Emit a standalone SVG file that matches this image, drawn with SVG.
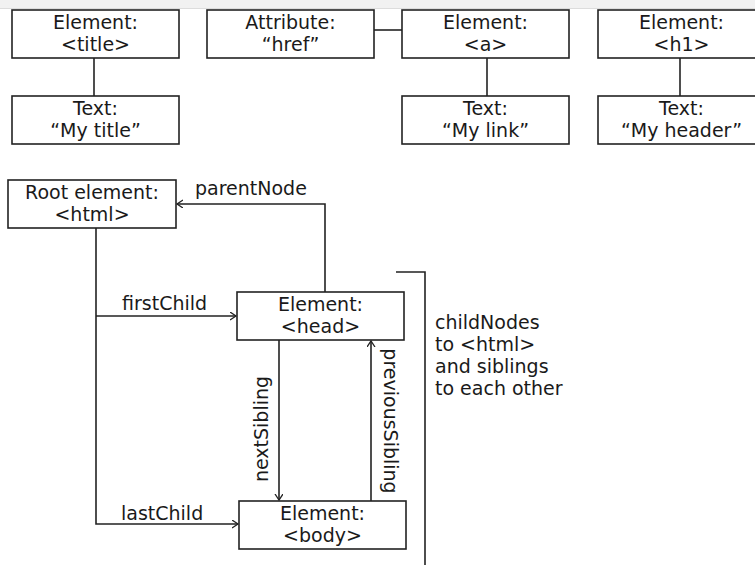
<svg xmlns="http://www.w3.org/2000/svg" width="755" height="565" viewBox="0 0 755 565">
<style>
.box{fill:#fff;stroke:#222;stroke-width:1.6}
.t{font-family:"DejaVu Sans",Verdana,sans-serif;font-size:19px;fill:#1a1a1a;text-anchor:middle}
.l{font-family:"DejaVu Sans",Verdana,sans-serif;font-size:19px;fill:#1a1a1a}
.c{fill:none;stroke:#222;stroke-width:1.6}
</style>
<defs>
<marker id="arr" markerUnits="userSpaceOnUse" markerWidth="10" markerHeight="10" refX="6" refY="4" orient="auto">
<path d="M0,0 L6,4 L0,8" fill="none" stroke="#222" stroke-width="1.3"/>
</marker>
</defs>
<rect x="0" y="0" width="755" height="8" fill="#f1f1f1"/>
<line x1="0" y1="8.5" x2="755" y2="8.5" stroke="#dcdcdc" stroke-width="1"/>
<g id="connectors">
<path class="c" d="M94 58V96"/>
<path class="c" d="M374 30H402"/>
<path class="c" d="M487 58V96"/>
<path class="c" d="M680 58V96"/>
<path class="c" d="M325 292V204H177" marker-end="url(#arr)"/>
<path class="c" d="M96 228V524H238" marker-end="url(#arr)"/>
<path class="c" d="M96 316H236" marker-end="url(#arr)"/>
<path class="c" d="M279 340V500" marker-end="url(#arr)"/>
<path class="c" d="M371 501V341" marker-end="url(#arr)"/>
<path class="c" d="M396 272H425V565"/>
<text class="l" x="195" y="195">parentNode</text>
<text class="l" x="122" y="310">firstChild</text>
<text class="l" x="121" y="520">lastChild</text>
<text class="t" transform="translate(268 429) rotate(-90)">nextSibling</text>
<text class="t" transform="translate(384 421) rotate(90)">previousSibling</text>
<text class="l" x="435" y="329">childNodes</text>
<text class="l" x="435" y="351">to &lt;html&gt;</text>
<text class="l" x="435" y="373">and siblings</text>
<text class="l" x="435" y="395">to each other</text>
</g>
<g id="el-title"><rect class="box" x="12" y="10" width="167" height="48"/><text class="t" x="95.5" y="29">Element:</text><text class="t" x="95.5" y="51">&lt;title&gt;</text></g>
<g id="attr-href"><rect class="box" x="207" y="10" width="167" height="48"/><text class="t" x="290.5" y="29">Attribute:</text><text class="t" x="290.5" y="51">“href”</text></g>
<g id="el-a"><rect class="box" x="402" y="10" width="167" height="48"/><text class="t" x="485.5" y="29">Element:</text><text class="t" x="485.5" y="51">&lt;a&gt;</text></g>
<g id="el-h1"><rect class="box" x="598" y="10" width="167" height="48"/><text class="t" x="681.5" y="29">Element:</text><text class="t" x="681.5" y="51">&lt;h1&gt;</text></g>
<g id="text-title"><rect class="box" x="12" y="96" width="167" height="48"/><text class="t" x="95.5" y="115">Text:</text><text class="t" x="95.5" y="137">“My title”</text></g>
<g id="text-link"><rect class="box" x="402" y="96" width="167" height="48"/><text class="t" x="485.5" y="115">Text:</text><text class="t" x="485.5" y="137">“My link”</text></g>
<g id="text-header"><rect class="box" x="598" y="96" width="167" height="48"/><text class="t" x="681.5" y="115">Text:</text><text class="t" x="681.5" y="137">“My header”</text></g>
<g id="root-html"><rect class="box" x="8" y="180" width="168" height="48"/><text class="t" x="92" y="199">Root element:</text><text class="t" x="92" y="221">&lt;html&gt;</text></g>
<g id="el-head"><rect class="box" x="237" y="292" width="167" height="48"/><text class="t" x="320.5" y="311">Element:</text><text class="t" x="320.5" y="333">&lt;head&gt;</text></g>
<g id="el-body"><rect class="box" x="239" y="501" width="167" height="48"/><text class="t" x="322.5" y="520">Element:</text><text class="t" x="322.5" y="542">&lt;body&gt;</text></g>
</svg>
